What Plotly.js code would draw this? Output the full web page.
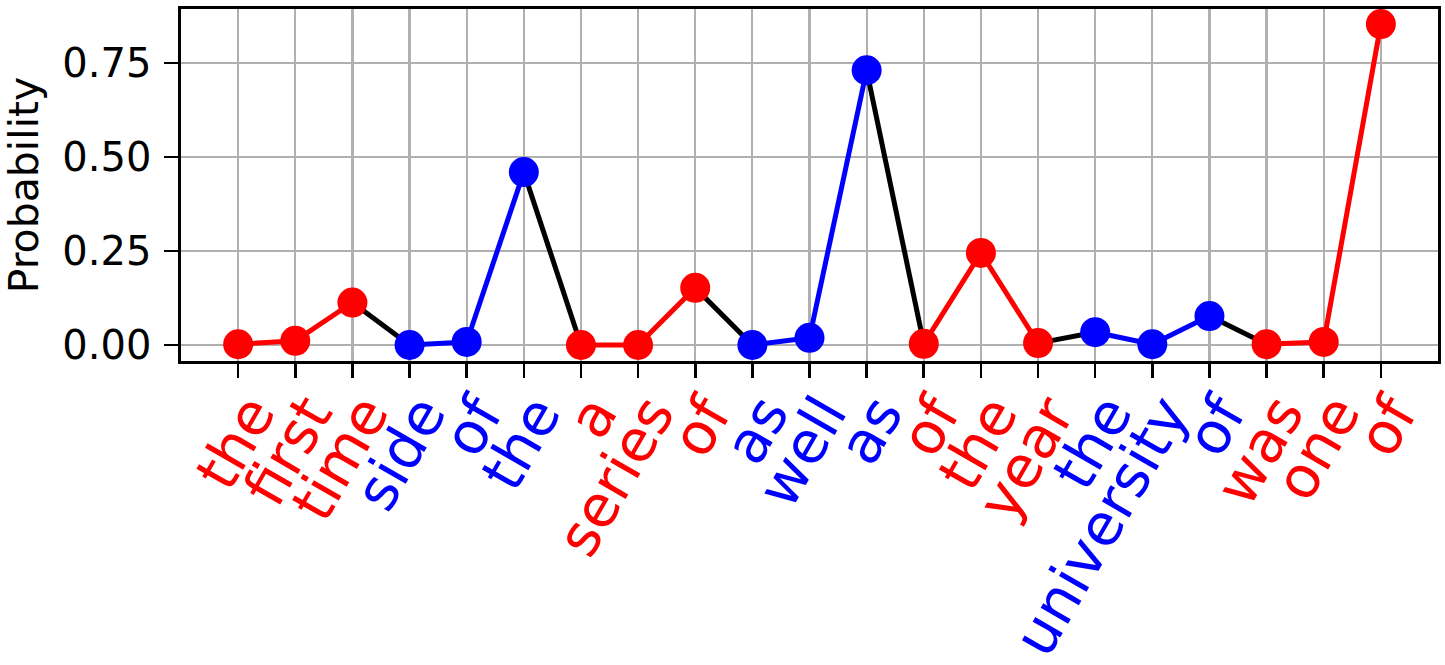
<!DOCTYPE html>
<html>
<head>
<meta charset="utf-8">
<script src="https://cdn.plot.ly/plotly-3.0.1.min.js"></script>
<style>html,body{margin:0;padding:0;background:#fff;}#chart{width:1445px;height:665px;}</style>
</head>
<body>
<div id="chart"></div>
<script>
const labels = ["the","first","time","side","of","the","a","series","of","as","well","as","of","the","year","the","university","of","was","one","of"];
const probs = [0.002,0.011,0.113,0.0,0.008,0.46,0.0,0.0,0.152,0.0,0.019,0.731,0.003,0.245,0.005,0.034,0.002,0.077,0.002,0.008,0.854];
const groups = ["r","r","r","b","b","b","r","r","r","b","b","b","r","r","r","b","b","b","r","r","r"];
const colorMap = {r: "#ff0000", b: "#0000ff"};

const xs = labels.map((_, i) => i);
const traces = [];
for (let i = 0; i < probs.length - 1; i++) {
  const c = groups[i] === groups[i + 1] ? colorMap[groups[i]] : "#000000";
  traces.push({
    x: [xs[i], xs[i + 1]], y: [probs[i], probs[i + 1]],
    type: "scatter", mode: "lines", line: {color: c, width: 5},
    hoverinfo: "skip", showlegend: false
  });
}
traces.push({
  x: xs, y: probs, type: "scatter", mode: "markers",
  marker: {size: 30, color: groups.map(g => colorMap[g])},
  showlegend: false
});

const font = "DejaVu Sans, sans-serif";
const annotations = labels.map((t, i) => ({
  x: xs[i], xref: "x", y: 0, yref: "paper",
  text: t, showarrow: false, textangle: -60,
  xanchor: "right", yanchor: "top", xshift: 53, yshift: -21,
  font: {family: font, size: 58, color: colorMap[groups[i]]}
}));

const layout = {
  width: 1445, height: 665,
  margin: {l: 181, r: 7, t: 9, b: 304},
  paper_bgcolor: "#ffffff", plot_bgcolor: "#ffffff",
  font: {family: font, size: 40, color: "#000"},
  xaxis: {
    range: [-1, 21], tickvals: xs, ticktext: labels, showticklabels: false,
    showgrid: true, gridcolor: "#b0b0b0", gridwidth: 2.2,
    showline: true, linecolor: "#000", linewidth: 2.6, mirror: true,
    ticks: "outside", ticklen: 14, tickwidth: 2.6, tickcolor: "#000",
    zeroline: false
  },
  yaxis: {
    range: [-0.0426, 0.894], tickvals: [0, 0.25, 0.5, 0.75], tickformat: ".2f",
    showgrid: true, gridcolor: "#b0b0b0", gridwidth: 2.2,
    showline: true, linecolor: "#000", linewidth: 2.6, mirror: true,
    ticks: "outside", ticklen: 14, tickwidth: 2.6, tickcolor: "#000",
    ticklabelstandoff: 5,
    zeroline: false, tickfont: {size: 40},
    title: {text: "Probability", font: {size: 41}, standoff: 22}
  },
  annotations: annotations
};
Plotly.newPlot("chart", traces, layout, {staticPlot: true});
</script>
</body>
</html>
